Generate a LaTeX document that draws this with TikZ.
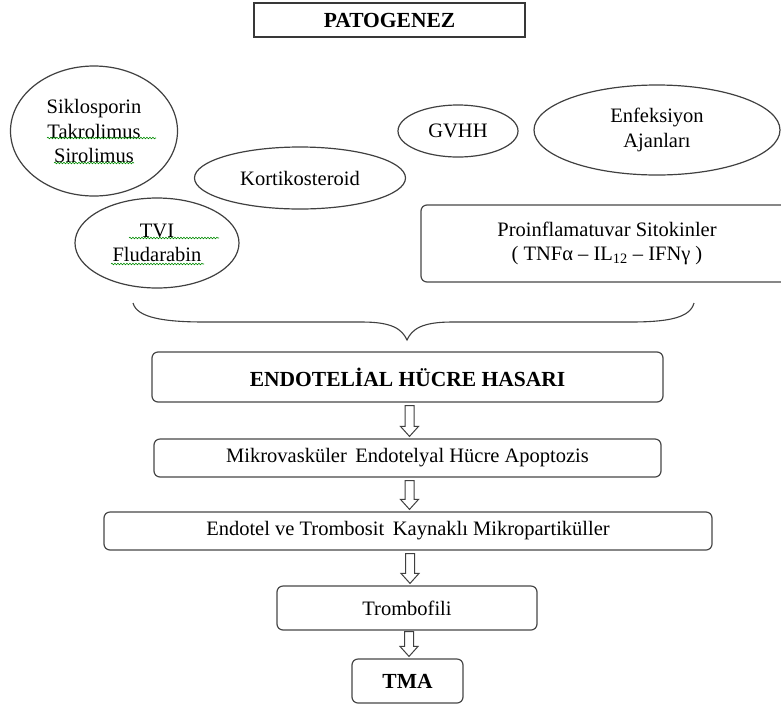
\documentclass[tikz,border=0pt]{standalone}
\usepackage{fontspec}
\setmainfont{Liberation Serif}
\usetikzlibrary{shapes.geometric,decorations.pathmorphing,calc}
\begin{document}
\begin{tikzpicture}[x=1pt,y=-1pt, line width=1.2pt,
  every node/.style={font=\fontsize{20.5}{24.5}\selectfont, align=center, text=black},
  sqbox/.style={draw=black!78, inner sep=0pt},
  rbox/.style={draw=black!72, rounded corners=6pt, inner sep=0pt},
  ell/.style={ellipse, draw=black!75, inner sep=0pt},
  bf/.style={font=\fontsize{21.5}{25}\selectfont\bfseries},
  blockarrow/.style={draw=black!75, line width=1pt, fill=white,
    to path={let \p1=(\tikztostart), \p2=(\tikztotarget) in
      (\x1-4.5pt,\y1) -- (\x1-4.5pt,\y2+10pt) -- (\x1-9pt,\y2+10pt) -- (\x1,\y2)
      -- (\x1+9pt,\y2+10pt) -- (\x1+4.5pt,\y2+10pt) -- (\x1+4.5pt,\y1) -- cycle}},
  squig/.style={draw=green!55!black, line width=0.6pt, decorate,
    decoration={snake, amplitude=0.8pt, segment length=3pt}},
  bracestyle/.style={draw=black!75, line width=1.1pt}
]
\clip (0,0) rectangle (781,705);
\fill[white] (0,0) rectangle (781,705);

% title
\node[sqbox, bf, minimum width=271pt, minimum height=34pt] (pat) at (389.5,20) {PATOGENEZ};

% causes
\node[ell, minimum width=167pt, minimum height=130pt] (sik) at (94,131) {Siklosporin\\Takrolimus\\Sirolimus};
\node[ell, minimum width=211pt, minimum height=62pt] (kort) at (300,178) {Kortikosteroid};
\node[ell, minimum width=120pt, minimum height=52pt] (gvhh) at (458,131) {GVHH};
\node[ell, minimum width=246pt, minimum height=90pt] (enf) at (657,130) {Enfeksiyon\\Ajanları};
\node[ell, minimum width=164pt, minimum height=90pt] (tvi) at (157,243) {TVI\\Fludarabin};
\node[rbox, minimum width=372pt, minimum height=77pt] (pro) at (607,243.5)
  {Proinflamatuvar Sitokinler\\( TNFα – IL\textsubscript{12} – IFNγ )};

% spell-check squiggles
\draw[squig] (47,138) -- (156,138);
\draw[squig] (54,163) -- (134,163);
\draw[squig] (129,238) -- (219,238);
\draw[squig] (111,264) -- (204,264);

% brace
\coordinate (btip) at (407,340);
\draw[bracestyle] (133,303) .. controls (137,318) and (165,322) .. (205,322)
  -- (362,322) .. controls (392,322) and (402,329) .. (btip)
  .. controls (412,329) and (422,322) .. (452,322)
  -- (630,322) .. controls (668,322) and (690,318) .. (694,303);

% chain
\node[rbox, bf, minimum width=511pt, minimum height=50pt] (endo) at (407.5,377) {ENDOTELİAL HÜCRE HASARI};
\node[rbox, minimum width=507pt, minimum height=38pt] (mikro) at (407.5,458) {Mikrovasküler\, Endotelyal Hücre Apoptozis};
\node[rbox, minimum width=608pt, minimum height=38pt] (endot) at (408,531) {Endotel ve Trombosit\, Kaynaklı Mikropartiküller};
\node[rbox, minimum width=260pt, minimum height=44pt] (tromb) at (407,608) {Trombofili};
\node[rbox, bf, minimum width=111pt, minimum height=44pt] (tma) at (407.5,681) {TMA};

\draw[blockarrow] ([xshift=2pt,yshift=-3pt]endo.south) to ([xshift=2pt,yshift=2pt]mikro.north);
\draw[blockarrow] ([xshift=2pt,yshift=-3pt]mikro.south) to ([xshift=2pt,yshift=2pt]endot.north);
\draw[blockarrow] ([xshift=2pt,yshift=-3pt]endot.south) to ([xshift=2pt,yshift=2pt]tromb.north);
\draw[blockarrow] ([xshift=2pt,yshift=-1pt]tromb.south) to ([xshift=2pt,yshift=2pt]tma.north);
\end{tikzpicture}
\end{document}
